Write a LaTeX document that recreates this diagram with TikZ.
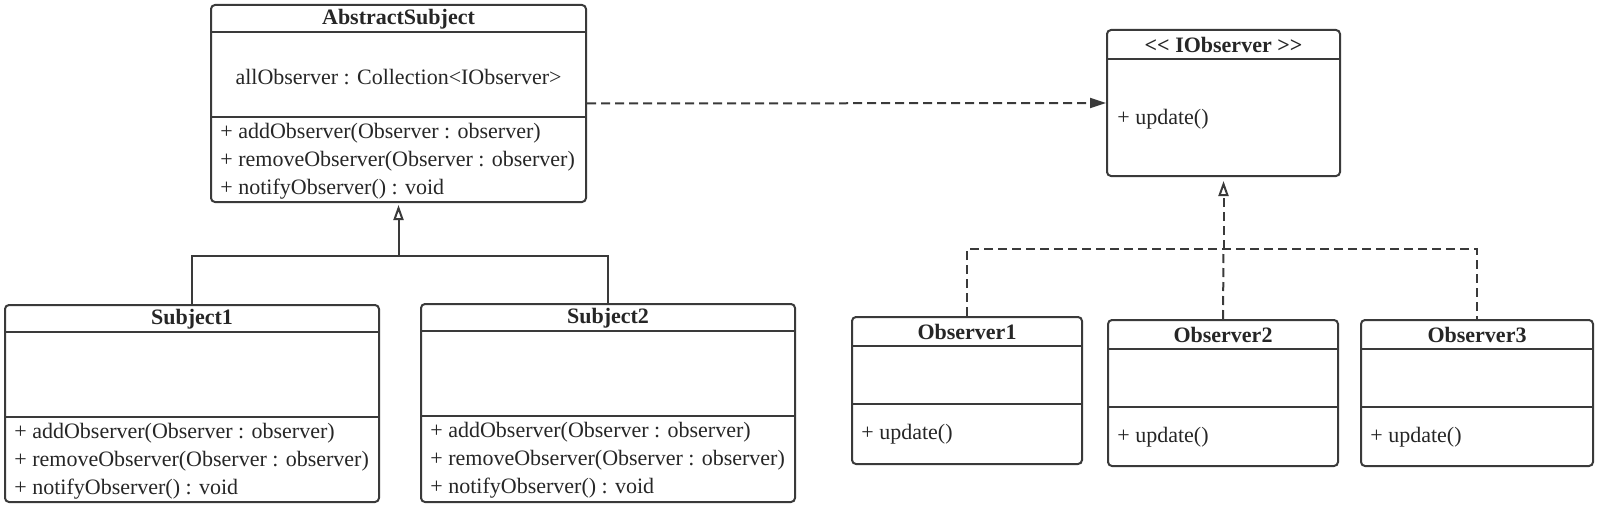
\documentclass[tikz,border=0pt]{standalone}
\usepackage{fontspec}
\setmainfont{Liberation Serif}
\usepackage{tikz}
\usetikzlibrary{arrows.meta,positioning,calc,fit}
\definecolor{umlline}{HTML}{3A3A3A}
\definecolor{umltext}{HTML}{262626}

\begin{document}
\begin{tikzpicture}[
    x=0.5pt,y=-0.5pt,
    cls/.style  = {rectangle,rounded corners=2pt,draw=umlline,line width=1pt,
                   inner sep=0pt},
    sep/.style  = {draw=umlline,line width=1pt},
    ttl/.style  = {font=\fontsize{11}{13}\selectfont\bfseries,text=umltext},
    mem/.style  = {font=\fontsize{11}{13}\selectfont,text=umltext,anchor=west,
                   inner sep=0pt},
    dep/.style  = {-{Triangle[length=8pt,width=5pt]},umlline,line width=1pt,
                   dash pattern=on 4.5pt off 2.5pt},
    gen/.style  = {-{Triangle[open,length=7.5pt,width=5pt]},umlline,line width=1pt,
                   shorten >=1pt},
    real/.style = {-{Triangle[open,length=7.5pt,width=5pt]},umlline,line width=1pt,
                   dash pattern=on 4.5pt off 2.5pt,shorten >=2pt},
    lnk/.style  = {umlline,line width=1pt},
    dlnk/.style = {umlline,line width=1pt,dash pattern=on 4.5pt off 2.5pt},
  ]
  \useasboundingbox (0,0) rectangle (1598,508);

  % class boxes
  \node[cls,fit={(211,5) (586,202)}]    (abs)  {};
  \node[cls,fit={(5,305) (379,502)}]    (sub1) {};
  \node[cls,fit={(421,304) (795,502)}]  (sub2) {};
  \node[cls,fit={(1107,30) (1340,176)}] (iobs) {};
  \node[cls,fit={(852,317) (1082,464)}] (obs1) {};
  \node[cls,fit={(1108,320) (1338,466)}](obs2) {};
  \node[cls,fit={(1361,320) (1593,466)}](obs3) {};

  % subject side
  \foreach \b/\t in {abs/AbstractSubject,sub1/Subject1,sub2/Subject2}
    \node[ttl] (\b-t) at ($(\b.north)+(0,15)$) {\t};
  \foreach \b in {abs,sub1,sub2} {
    \draw[sep] ($(\b.north west)+(0,28)$)  -- ($(\b.north east)+(0,28)$);
    \draw[sep] ($(\b.north west)+(0,113)$) -- ($(\b.north east)+(0,113)$);
    \node[mem] (\b-m1) at ($(\b.north west)+(10,129)$) {+ addObserver(Observer : observer)};
    \node[mem] (\b-m2) at ($(\b.north west)+(10,157)$) {+ removeObserver(Observer : observer)};
    \node[mem] (\b-m3) at ($(\b.north west)+(10,185)$) {+ notifyObserver() : void};
  }
  \node[mem,anchor=center] (abs-a) at ($(abs.north)+(0,73)$)
       {allObserver : Collection<IObserver>};

  % observer side
  \node[ttl] (iobs-t) at ($(iobs.north)+(0,16)$) {<{}< IObserver >{}>};
  \draw[sep] ($(iobs.north west)+(0,30)$) -- ($(iobs.north east)+(0,30)$);
  \node[mem] (iobs-m1) at ($(iobs.north west)+(11,90)$) {+ update()};

  \foreach \b/\t in {obs1/Observer1,obs2/Observer2,obs3/Observer3} {
    \node[ttl] (\b-t) at ($(\b.north)+(0,16)$) {\t};
    \draw[sep] ($(\b.north west)+(0,30)$) -- ($(\b.north east)+(0,30)$);
    \draw[sep] ($(\b.north west)+(0,88)$) -- ($(\b.north east)+(0,88)$);
    \node[mem] (\b-m1) at ($(\b.north west)+(10,118)$) {+ update()};
  }

  % connectors
  \draw[dep] (abs.east) -- (iobs.west);

  \coordinate (j1) at ($(abs.south)+(0,53)$);
  \draw[lnk] (sub1.north) |- (j1) -| (sub2.north);
  \draw[gen] (j1) -- (abs.south);

  \coordinate (j2) at ($(iobs.south)+(0,72)$);
  \draw[dlnk] (obs1.north) |- (j2) -| (obs3.north);
  \draw[dlnk] (obs2.north) -- (j2);
  \draw[real] (j2) -- (iobs.south);

\end{tikzpicture}
\end{document}
